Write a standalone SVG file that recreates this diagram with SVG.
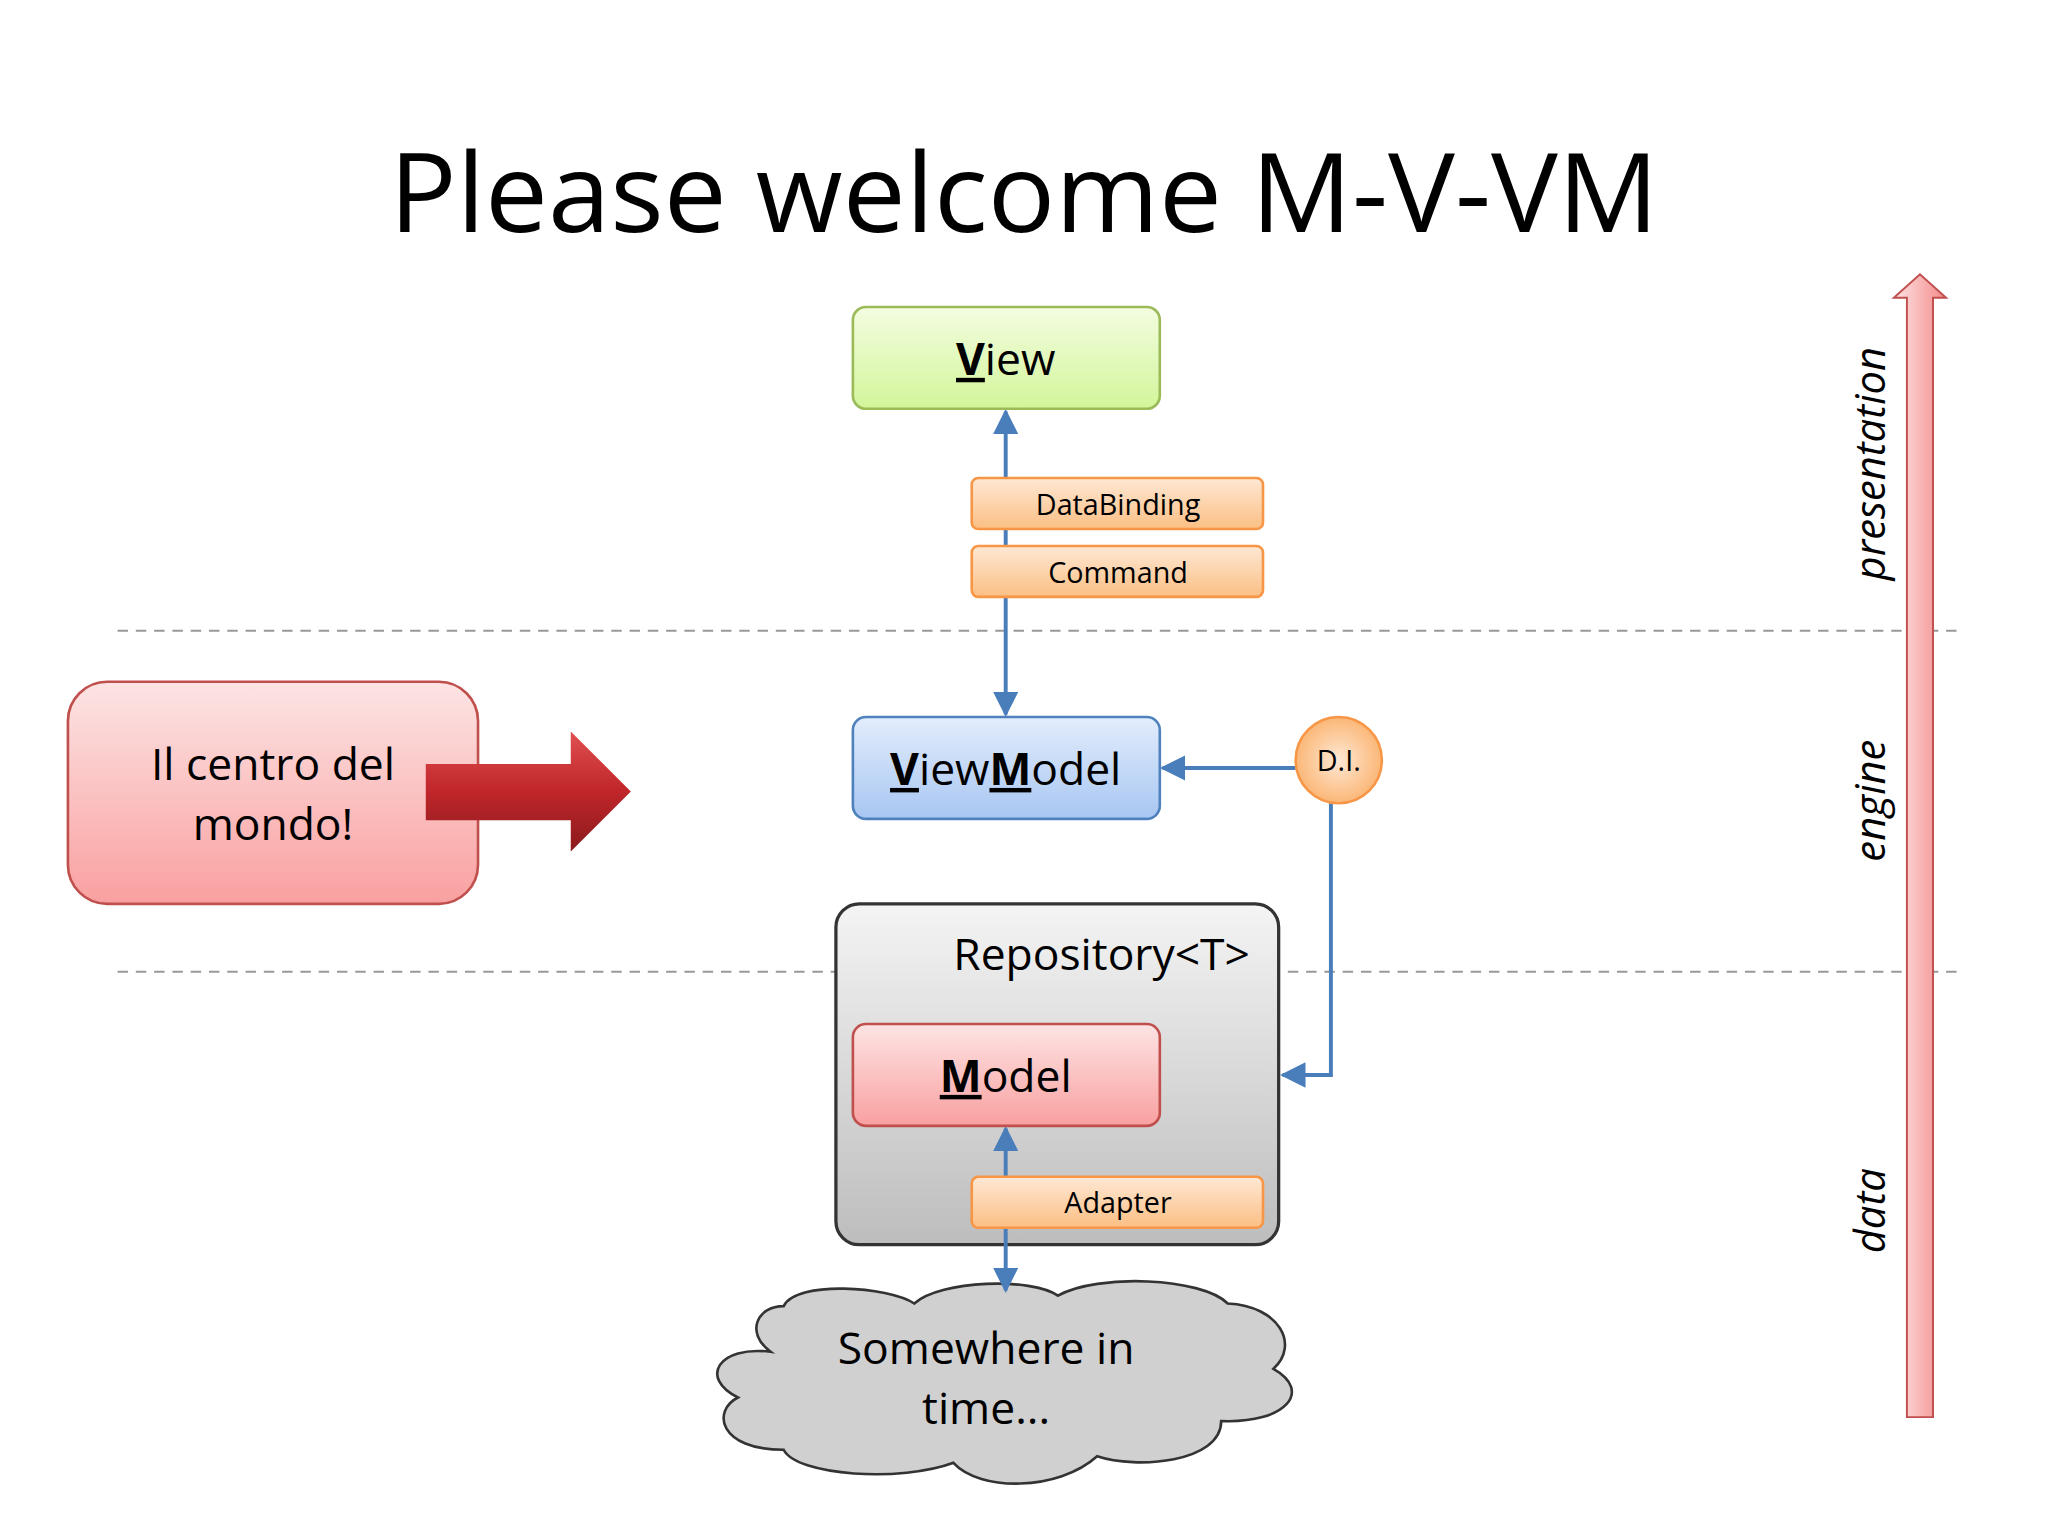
<svg xmlns="http://www.w3.org/2000/svg" width="2048" height="1536" viewBox="0 0 2048 1536">
<defs>
<linearGradient id="gG" x1="0" y1="0" x2="0" y2="1"><stop offset="0" stop-color="#f3fde0"/><stop offset="1" stop-color="#d3f59a"/></linearGradient>
<linearGradient id="gO" x1="0" y1="0" x2="0" y2="1"><stop offset="0" stop-color="#fee8d4"/><stop offset="1" stop-color="#fbbf84"/></linearGradient>
<linearGradient id="gB" x1="0" y1="0" x2="0" y2="1"><stop offset="0" stop-color="#e3edfc"/><stop offset="1" stop-color="#a7c6f2"/></linearGradient>
<linearGradient id="gP" x1="0" y1="0" x2="0" y2="1"><stop offset="0" stop-color="#fde4e4"/><stop offset="1" stop-color="#f9a0a0"/></linearGradient>
<linearGradient id="gR" x1="0" y1="0" x2="0" y2="1"><stop offset="0" stop-color="#f4f4f4"/><stop offset="1" stop-color="#bdbdbd"/></linearGradient>
<linearGradient id="gA" x1="0" y1="0" x2="0" y2="1"><stop offset="0" stop-color="#e05050"/><stop offset="0.5" stop-color="#c0262a"/><stop offset="1" stop-color="#8a1a1c"/></linearGradient>
<linearGradient id="gV" x1="0" y1="0" x2="1" y2="0"><stop offset="0" stop-color="#fde4e4"/><stop offset="1" stop-color="#f48a8a"/></linearGradient>
<radialGradient id="gD"><stop offset="0" stop-color="#fee8d4"/><stop offset="1" stop-color="#fbb777"/></radialGradient>
<marker id="ar" viewBox="0 0 10 10" refX="9" refY="5" markerWidth="6.5" markerHeight="6.5" orient="auto-start-reverse"><path d="M0,0L10,5L0,10z" fill="#4a7ebb"/></marker>
<style>
text{font-family:"Open Sans","Liberation Sans",sans-serif;fill:#000}
.lbl{font-size:22px;text-anchor:middle}
.big{font-size:34px;text-anchor:middle}
.ol{fill:url(#gO);stroke:#f79646;stroke-width:2}
.con{stroke:#4a7ebb;stroke-width:3;fill:none}
.dash{stroke:#999;stroke-width:1.5;stroke-dasharray:8,6}
.side{font-size:32px;font-style:italic;text-anchor:middle}
</style>
</defs>
<g transform="scale(1.3061)">
<text x="784" y="178" font-size="84" text-anchor="middle" textLength="972" lengthAdjust="spacingAndGlyphs">Please welcome M-V-VM</text>
<line class="dash" x1="90" y1="483" x2="1503" y2="483"/>
<line class="dash" x1="90" y1="744" x2="1503" y2="744"/>
<g id="arrowbar"><path d="M1460,1085V228H1450L1470,210L1490,228H1480V1085Z" fill="url(#gV)" stroke="#c0504d" stroke-width="1.5"/></g>
<text class="side" transform="translate(1443,355) rotate(-90)">presentation</text>
<text class="side" transform="translate(1443,613) rotate(-90)">engine</text>
<text class="side" transform="translate(1443,927) rotate(-90)">data</text>
<g id="callout"><rect x="52" y="522" width="314" height="170" rx="30" fill="url(#gP)" stroke="#c0504d" stroke-width="2"/>
<text class="big" x="209" y="597">Il centro del</text><text class="big" x="209" y="643">mondo!</text></g>
<g id="redarrow"><path d="M326,585H437V560L483,606L437,652V628H326Z" fill="url(#gA)"/></g>
<g id="repository"><rect x="640" y="692" width="339" height="261" rx="18" fill="url(#gR)" stroke="#333" stroke-width="2.5"/>
<text x="957" y="743" font-size="34" text-anchor="end">Repository&lt;T&gt;</text></g>
<g id="cloud"><path d="M600,1000C610,980 680,985 700,998C720,980 790,978 810,992C840,975 920,978 940,998C980,1000 995,1030 975,1048C1005,1065 985,1090 935,1088C935,1120 870,1125 840,1115C810,1142 750,1142 730,1120C690,1135 610,1130 600,1110C550,1110 545,1080 565,1070C535,1055 550,1030 590,1035C570,1020 580,1000 600,1000Z" fill="#d0d0d0" stroke="#333" stroke-width="2"/>
<text class="big" x="755" y="1044">Somewhere in</text><text class="big" x="755" y="1090">time...</text></g>
<g id="connectors">
<line class="con" x1="770" y1="315" x2="770" y2="547" marker-start="url(#ar)" marker-end="url(#ar)"/>
<line class="con" x1="992" y1="588" x2="890" y2="588" marker-end="url(#ar)"/>
<polyline class="con" points="1019,615 1019,823 982,823" marker-end="url(#ar)"/>
<line class="con" x1="770" y1="864" x2="770" y2="988" marker-start="url(#ar)" marker-end="url(#ar)"/>
</g>
<g id="view"><rect x="653" y="235" width="235" height="78" rx="10" fill="url(#gG)" stroke="#9bbb59" stroke-width="2"/>
<text class="big" x="770" y="287"><tspan font-weight="bold" text-decoration="underline">V</tspan>iew</text></g>
<g id="databinding"><rect class="ol" x="744" y="366" width="223" height="39" rx="5"/><text class="lbl" x="856" y="394">DataBinding</text></g>
<g id="command"><rect class="ol" x="744" y="418" width="223" height="39" rx="5"/><text class="lbl" x="856" y="446">Command</text></g>
<g id="viewmodel"><rect x="653" y="549" width="235" height="78" rx="10" fill="url(#gB)" stroke="#4f81bd" stroke-width="2"/>
<text class="big" x="770" y="601"><tspan font-weight="bold" text-decoration="underline">V</tspan>iew<tspan font-weight="bold" text-decoration="underline">M</tspan>odel</text></g>
<g id="di"><circle cx="1025" cy="582" r="33" fill="url(#gD)" stroke="#f79646" stroke-width="2"/><text class="lbl" x="1025" y="590" font-size="20">D.I.</text></g>
<g id="model"><rect x="653" y="784" width="235" height="78" rx="10" fill="url(#gP)" stroke="#c0504d" stroke-width="2"/>
<text class="big" x="770" y="836"><tspan font-weight="bold" text-decoration="underline">M</tspan>odel</text></g>
<g id="adapter"><rect class="ol" x="744" y="901" width="223" height="39" rx="5"/><text class="lbl" x="856" y="929">Adapter</text></g>
</g>
</svg>
